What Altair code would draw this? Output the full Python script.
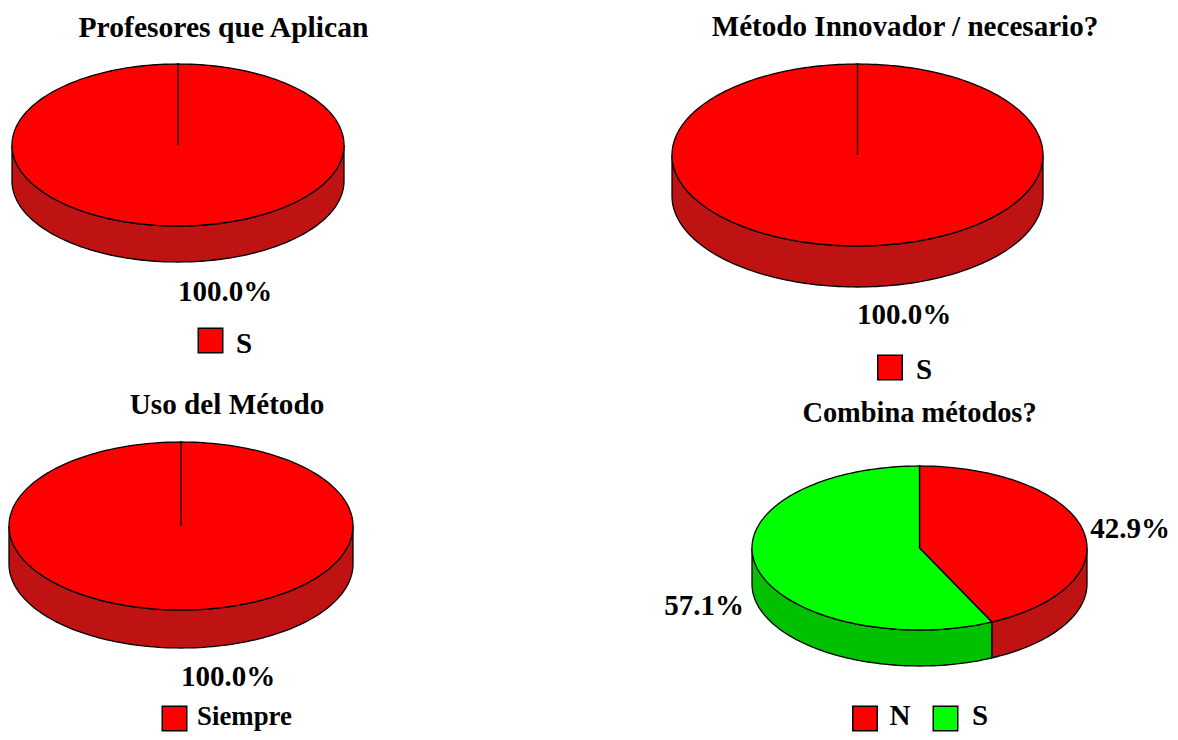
import math
import altair as alt

# ---- values ----
titles = ["Profesores que Aplican", "Método Innovador / necesario?", "Uso del Método", "Combina métodos?"]
slice_names = [["S"], ["S"], ["Siempre"], ["N", "S"]]
slice_shares = [[100.0], [100.0], [100.0], [42.9, 57.1]]
share_labels = [["100.0%"], ["100.0%"], ["100.0%"], ["42.9%", "57.1%"]]

# ---- styles ----
top_colors = {"red": "#ff0000", "green": "#00ff00"}
side_colors = {"red": "#bf1212", "green": "#00c000"}
slice_hues = [["red"], ["red"], ["red"], ["red", "green"]]
title_sizes = [29.6, 29.1, 29.2, 28.4]
name_sizes = [29, 29, 26.8, 29]
label_size = 29

# ---- layout, in page pixels: centre x, centre y, radius x, radius y, depth ----
pies = [(178, 145, 166, 81, 36), (857.5, 155, 185.5, 91, 41), (181, 526, 172, 84, 38), (919.5, 548, 167.5, 82, 36)]
title_pos = [(223.5, 28), (905, 27), (227, 405), (919.5, 413)]
label_pos = [[(225, 292)], [(904, 315)], [(228, 677)], [(1130, 529), (704, 606)]]
swatch_pos = [[(210.5, 340.5)], [(890, 367.5)], [(174.5, 718.5)], [(865, 718.5), (945.5, 718.5)]]
name_pos = [[(244, 344)], [(924, 370)], [(244.5, 717)], [(900, 716), (980, 716)]]

MARGIN = 8
W, H = 1162, 724
STEP = 1.5


def rim(pie, t0, t1):
    cx, cy, a, b, _ = pie
    n = max(2, int(abs(t1 - t0) / STEP) + 1)
    ts = [t0 + (t1 - t0) * i / (n - 1) for i in range(n)]
    return [[cx + a * math.sin(math.radians(t)), cy - b * math.cos(math.radians(t))] for t in ts]


side_features, top_features = [], []
for pie, shares, hues in zip(pies, slice_shares, slice_hues):
    cx, cy, _, _, depth = pie
    start = 0.0
    for share, hue in zip(shares, hues):
        end = start + share * 3.6
        edge = rim(pie, start, end)
        ring = [[cx, cy]] + edge + [[cx, cy]]
        top_features.append({"type": "Feature", "properties": {"color": top_colors[hue]},
                             "geometry": {"type": "Polygon", "coordinates": [ring]}})
        lo, hi = max(start, 90.0), min(end, 270.0)
        if hi > lo:
            front = rim(pie, lo, hi)
            lower = [[x, y + depth] for x, y in reversed(front)]
            ring = front + lower + [front[0]]
            side_features.append({"type": "Feature", "properties": {"color": side_colors[hue]},
                                  "geometry": {"type": "Polygon", "coordinates": [ring]}})
        start = end

text_rows, swatch_rows = [], []
for i, title in enumerate(titles):
    text_rows.append({"x": title_pos[i][0], "y": title_pos[i][1], "t": title, "s": title_sizes[i]})
    for label, pos in zip(share_labels[i], label_pos[i]):
        text_rows.append({"x": pos[0], "y": pos[1], "t": label, "s": label_size})
    for name, pos, spos, hue in zip(slice_names[i], name_pos[i], swatch_pos[i], slice_hues[i]):
        text_rows.append({"x": pos[0], "y": pos[1], "t": name, "s": name_sizes[i]})
        swatch_rows.append({"x": spos[0], "y": spos[1], "c": top_colors[hue]})

x_enc = alt.X("x:Q", scale=alt.Scale(domain=[MARGIN, MARGIN + W], range=[0, W]), axis=None)
y_enc = alt.Y("y:Q", scale=alt.Scale(domain=[MARGIN, MARGIN + H], range=[0, H]), axis=None)


def shape_layer(features):
    return alt.Chart(alt.Data(values=features)).mark_geoshape(
        stroke="#000000", strokeWidth=1.3
    ).encode(fill=alt.Color("properties.color:N", scale=None)).project(
        type="identity", scale=1, translate=[-MARGIN, -MARGIN]
    )


sides = shape_layer(side_features)
tops = shape_layer(top_features)

swatches = alt.Chart(alt.Data(values=swatch_rows)).mark_point(
    shape="square", size=600, filled=True, stroke="#000000", strokeWidth=1.5, opacity=1
).encode(x=x_enc, y=y_enc, fill=alt.Color("c:N", scale=None))

texts = alt.Chart(alt.Data(values=text_rows)).mark_text(
    font="Liberation Serif", fontWeight="bold", color="#000000",
    align="center", baseline="middle"
).encode(x=x_enc, y=y_enc, text="t:N", size=alt.Size("s:Q", scale=None))

chart = alt.layer(sides, tops, swatches, texts).properties(
    width=W, height=H, padding=0, background="#ffffff",
    autosize=alt.AutoSizeParams(type="none")
).configure_view(stroke=None)

chart.save("out.html", embed_options={"renderer": "svg", "actions": False})
